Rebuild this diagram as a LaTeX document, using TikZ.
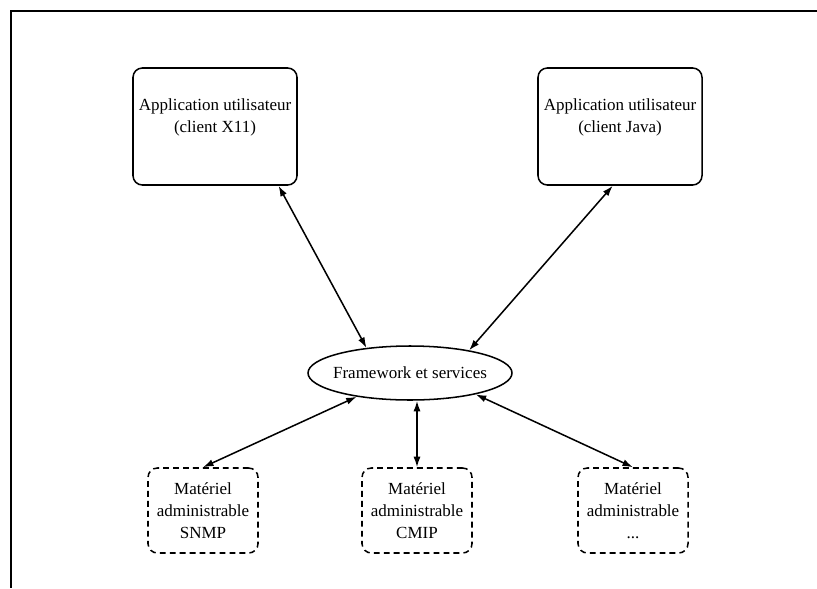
\documentclass[tikz,border=0pt]{standalone}
\usepackage{fontspec}
\setmainfont{Liberation Serif}
\usetikzlibrary{shapes.geometric, arrows.meta}
\tikzset{
    appbox/.style={draw, rounded corners=8pt, line width=1.3pt,
        minimum width=4.92cm, minimum height=3.51cm, align=center, inner sep=2pt},
    hwbox/.style={draw, dash pattern=on 5pt off 3.5pt, rounded corners=8pt, line width=1.3pt,
        minimum width=3.3cm, minimum height=2.55cm, align=center, inner sep=2pt},
    fwell/.style={draw, ellipse, line width=1.3pt, inner xsep=-4.3pt, inner ysep=0pt,
        minimum width=6.12cm, minimum height=1.62cm},
    link/.style={{Latex[length=9pt,width=6pt]}-{Latex[length=9pt,width=6pt]}, line width=1.3pt}
}

\begin{document}
\begin{tikzpicture}[x=0.03cm, y=-0.03cm, font=\fontsize{14.5}{18.7}\selectfont]
            \useasboundingbox (0,0) rectangle (817,588);
            % Frame (cut at right and bottom)
            \draw[line width=1.4pt] (817,11) -- (11,11) -- (11,588);

            % Client applications
            \node[appbox] (cx) at (215,126.5) {Application utilisateur\\(client X11)\\\mbox{}};
            \node[appbox] (cj) at (620,126.5) {Application utilisateur\\(client Java)\\\mbox{}};

            % Framework
            \node[fwell] (fw) at (410,373) {Framework et services};

            % Managed equipment
            \node[hwbox] (snmp) at (203,510.5) {Matériel\\administrable\\SNMP};
            \node[hwbox] (cmip) at (417,510.5) {Matériel\\administrable\\CMIP};
            \node[hwbox] (other) at (633,510.5) {Matériel\\administrable\\...};

            % Links
            \draw[link] (cx.-43) -- (fw.150);
            \draw[link] (cj.-97) -- (fw.21);
            \draw[link] (fw.-156) -- (snmp.north);
            \draw[link] (fw.south -| cmip.north) -- (cmip.north);
            \draw[link] (fw.-18) -- (other.north);
\end{tikzpicture}
\end{document}
